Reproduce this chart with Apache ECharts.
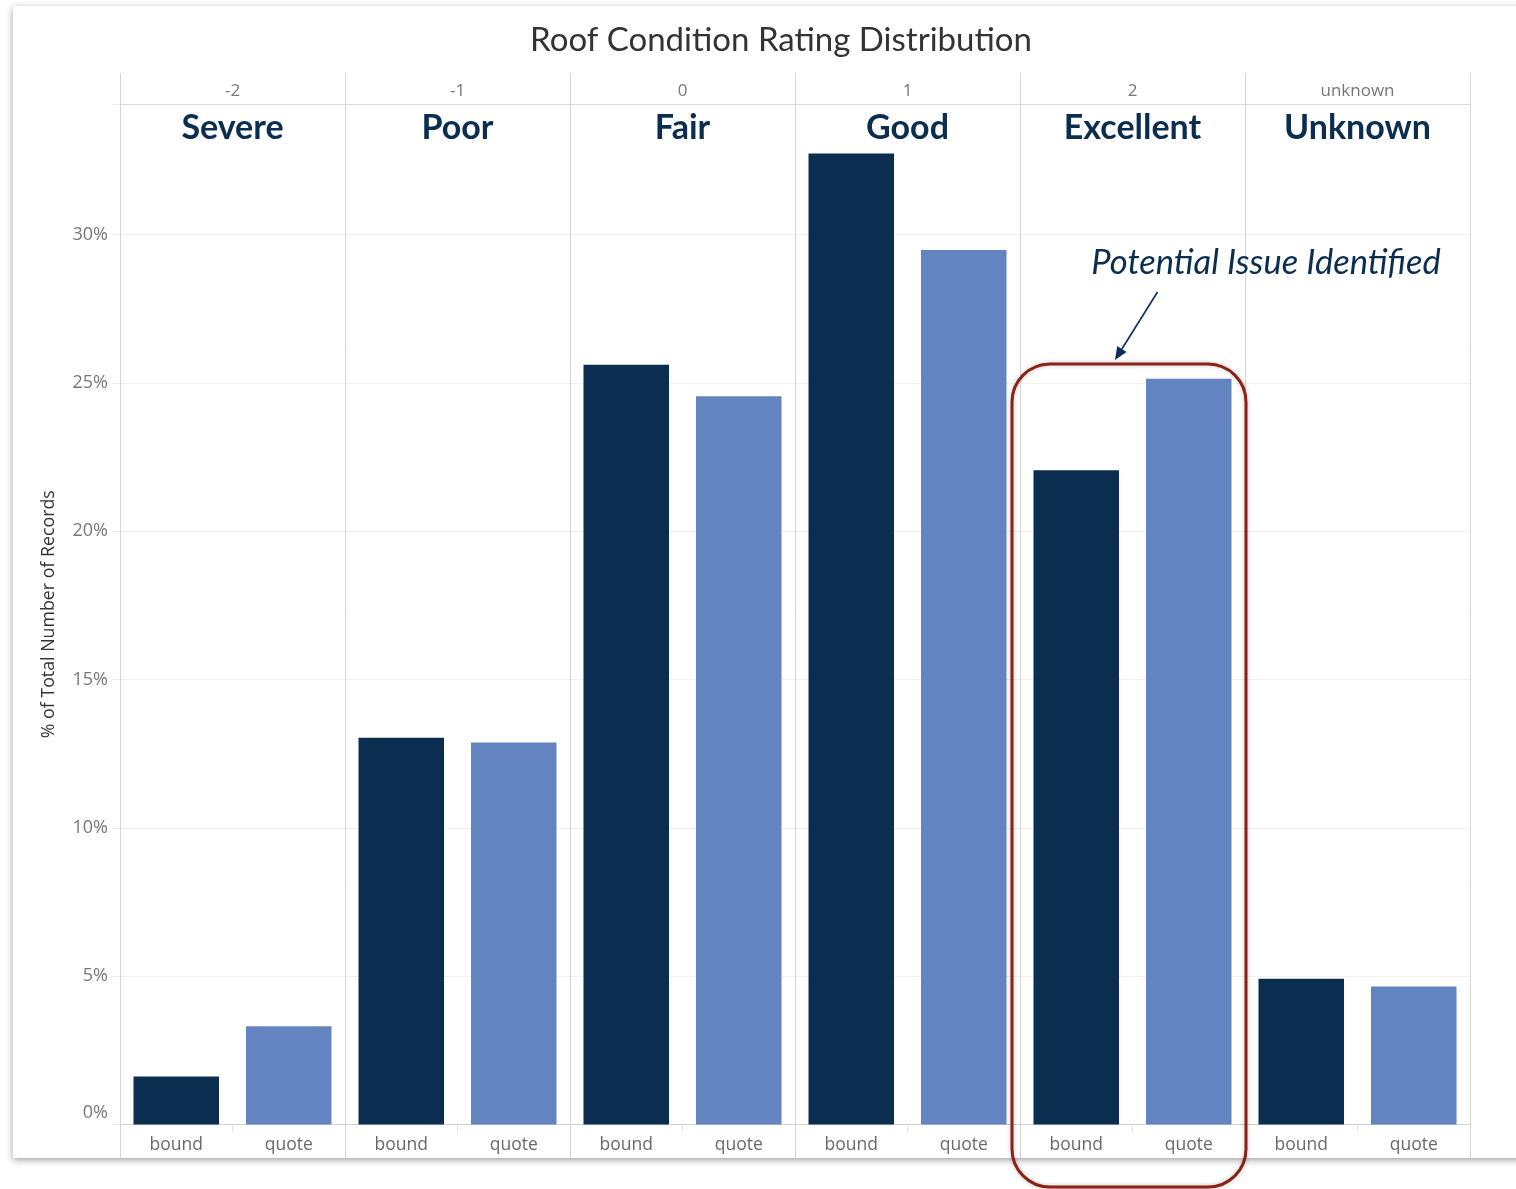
<!DOCTYPE html>
<html><head><meta charset="utf-8">
<script src="https://cdn.jsdelivr.net/npm/echarts@6/dist/echarts.min.js"></script>
<style>html,body{margin:0;padding:0;background:#fff}#c{width:1516px;height:1189px}</style>
</head><body><div id="c"></div>
<script>
// ---- data ----
const ratingCodes = ['-2', '-1', '0', '1', '2', 'unknown'];
const ratingNames = ['Severe', 'Poor', 'Fair', 'Good', 'Excellent', 'Unknown'];
const groups = ['bound', 'quote'];
const boundPct = [1.62, 13.04, 25.61, 32.73, 22.05, 4.91];
const quotePct = [3.31, 12.88, 24.55, 29.48, 25.14, 4.65];
const yTicks = [0, 5, 10, 15, 20, 25, 30];
const chartTitle = 'Roof Condition Rating Distribution';
const yAxisTitle = '% of Total Number of Records';
const noteText = 'Potential Issue Identified';
const highlightIndex = 4;

// ---- layout / style ----
const FONT = 'Lato, "Noto Sans", sans-serif';
const AXFONT = '"Open Sans", "Noto Sans", sans-serif';
const PANEL_LEFT = 120, PANEL_W = 225, PLOT_TOP = 104, PLOT_H = 1020.5;
const HEADER_TOP = 73, FRAME_BOTTOM = 1158;
const DARK = '#0b2d4f', LIGHT = '#6384c0', NAVY_TEXT = '#0b2d4f';
const Y_MAX = 34.4;

const chart = echarts.init(document.getElementById('c'), null, {renderer: 'canvas'});

const grids = [], xAxes = [], yAxes = [], series = [];
ratingCodes.forEach((code, i) => {
  grids.push({left: PANEL_LEFT + PANEL_W * i, top: PLOT_TOP, width: PANEL_W, height: PLOT_H, containLabel: false});
  xAxes.push({
    gridIndex: i, type: 'category', data: groups, position: 'bottom',
    axisLine: {show: true, lineStyle: {color: '#d2d2d2', width: 1}},
    axisTick: {show: true, interval: 0, length: 7, lineStyle: {color: '#e4e4e4'}},
    axisLabel: {color: '#6a6a6a', fontSize: 17.5, fontFamily: AXFONT, margin: 12, interval: 0}
  });
  xAxes.push({
    gridIndex: i, type: 'category', data: [code], position: 'top',
    axisLine: {show: true, lineStyle: {color: '#dadada', width: 1}},
    axisTick: {show: false},
    axisLabel: {color: '#777', fontSize: 17, fontFamily: AXFONT, margin: 4}
  });
  yAxes.push({
    gridIndex: i, type: 'value', min: 0, max: Y_MAX, interval: 5,
    axisLine: {show: false},
    axisTick: {show: i === 0, length: 8, lineStyle: {color: '#ececec'}},
    splitLine: {show: true, lineStyle: {color: '#f0f0f0', width: 1}},
    axisLabel: {
      show: i === 0, margin: 12, fontFamily: AXFONT, fontSize: 18, color: '#777',
      formatter: v => v === 0 ? '{z|0%}' : (yTicks.includes(v) ? v + '%' : ''),
      rich: {z: {fontFamily: AXFONT, fontSize: 18, color: '#777', padding: [0, 0, 24, 0]}}
    },
    name: i === 0 ? yAxisTitle : '', nameLocation: 'middle', nameGap: 62,
    nameTextStyle: {color: '#333', fontSize: 17.8, fontFamily: AXFONT}
  });
  series.push({
    type: 'bar', xAxisIndex: i * 2, yAxisIndex: i, barCategoryGap: '24%',
    data: [
      {value: boundPct[i], itemStyle: {color: DARK}},
      {value: quotePct[i], itemStyle: {color: LIGHT}}
    ],
    silent: true
  });
});

const graphics = [];
// card background with shadow
graphics.push({type: 'rect', z: -10, shape: {x: 13, y: 6, width: 1560, height: FRAME_BOTTOM - 6},
  style: {fill: '#fff', shadowBlur: 7, shadowColor: 'rgba(0,0,0,0.38)', shadowOffsetY: 2}});
// panel separators
for (let i = 0; i <= ratingCodes.length; i++) {
  const x = PANEL_LEFT + PANEL_W * i + 0.5;
  graphics.push({type: 'line', z: 5, shape: {x1: x, y1: HEADER_TOP, x2: x, y2: FRAME_BOTTOM},
    style: {stroke: '#d6d6d6', lineWidth: 1}});
}
// panel names
ratingNames.forEach((nm, i) => {
  graphics.push({type: 'text', z: 6, x: PANEL_LEFT + PANEL_W * (i + 0.5), y: 128.5,
    style: {text: nm, fill: NAVY_TEXT, font: 'bold 34px ' + FONT, textAlign: 'center', textVerticalAlign: 'middle'}});
});
// title
graphics.push({type: 'text', z: 6, x: 781, y: 40,
  style: {text: chartTitle, fill: '#333', font: '33px ' + FONT, textAlign: 'center', textVerticalAlign: 'middle'}});
// annotation
graphics.push({type: 'text', z: 6, x: 1266, y: 263,
  style: {text: noteText, fill: NAVY_TEXT, font: 'italic 34.5px ' + FONT, textAlign: 'center', textVerticalAlign: 'middle'}});
const a0 = [1157.5, 292], a1 = [1115, 360];
const dx = a1[0] - a0[0], dy = a1[1] - a0[1], L = Math.hypot(dx, dy), ux = dx / L, uy = dy / L;
const bx = a1[0] - ux * 13, by = a1[1] - uy * 13;
graphics.push({type: 'line', z: 6, shape: {x1: a0[0], y1: a0[1], x2: bx, y2: by}, style: {stroke: '#0b2d5f', lineWidth: 1.6}});
graphics.push({type: 'polygon', z: 6, shape: {points: [[a1[0], a1[1]], [bx + uy * 5.5, by - ux * 5.5], [bx - uy * 5.5, by + ux * 5.5]]},
  style: {fill: '#0b2d5f'}});
// highlight box
const hx = PANEL_LEFT + PANEL_W * highlightIndex;
graphics.push({type: 'rect', z: 7, shape: {x: hx - 8, y: 364, width: PANEL_W + 9, height: 823, r: 38},
  style: {fill: 'none', stroke: '#8a2315', lineWidth: 3, shadowBlur: 4, shadowColor: 'rgba(0,0,0,0.25)'}});

chart.setOption({
  backgroundColor: '#fff',
  animation: false,
  grid: grids, xAxis: xAxes, yAxis: yAxes, series: series,
  graphic: graphics
});
</script></body></html>
